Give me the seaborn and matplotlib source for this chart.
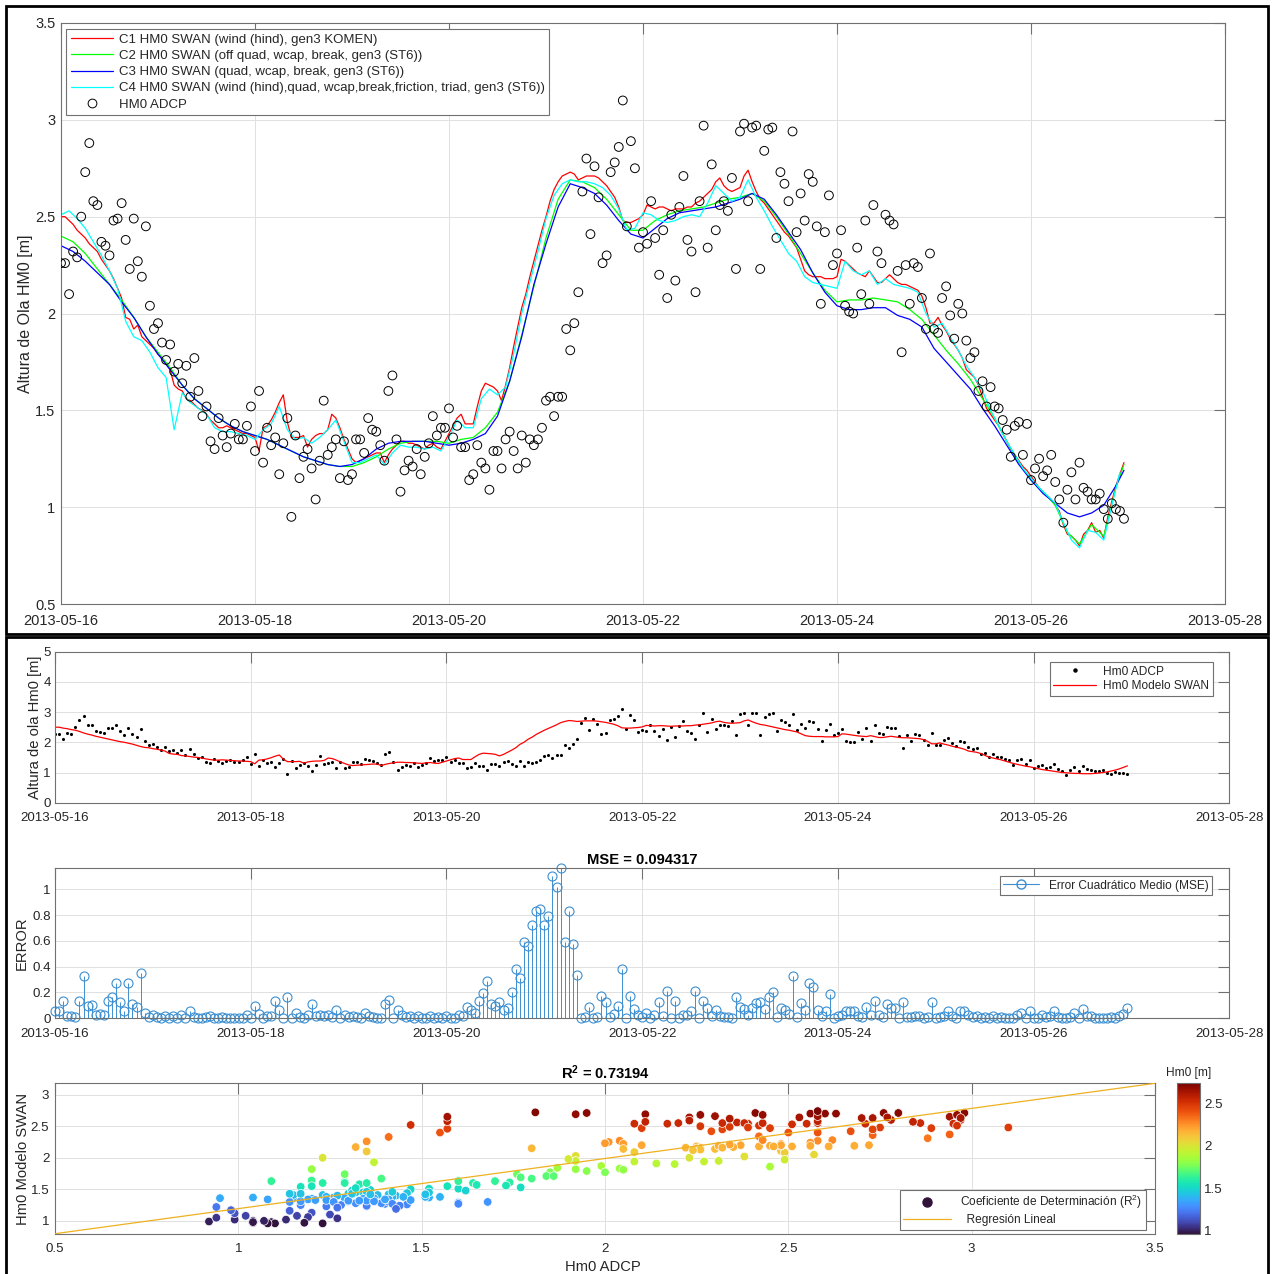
import numpy as np
import pandas as pd
import matplotlib
matplotlib.use("Agg")
import matplotlib.pyplot as plt
import matplotlib.dates as mdates
from matplotlib.lines import Line2D
from matplotlib.patches import Rectangle
from matplotlib.ticker import FormatStrFormatter
from matplotlib.cm import ScalarMappable
import seaborn as sns

# ---------------------------------------------------------------- data
START = "2013-05-16T00:00"

# ADCP significant wave height, hourly from 2013-05-16 00:00
adcp_hm0 = [
    2.26, 2.26, 2.10, 2.32, 2.29, 2.50, 2.73, 2.88, 2.58, 2.56, 2.37, 2.35,
    2.30, 2.48, 2.49, 2.57, 2.38, 2.23, 2.49, 2.27, 2.19, 2.45, 2.04, 1.92,
    1.95, 1.85, 1.76, 1.84, 1.70, 1.74, 1.64, 1.73, 1.57, 1.77, 1.60, 1.47,
    1.52, 1.34, 1.30, 1.46, 1.37, 1.31, 1.38, 1.43, 1.35, 1.35, 1.42, 1.52,
    1.29, 1.60, 1.23, 1.41, 1.32, 1.36, 1.17, 1.33, 1.46, 0.95, 1.37, 1.15,
    1.26, 1.30, 1.20, 1.04, 1.24, 1.55, 1.27, 1.31, 1.35, 1.15, 1.34, 1.14,
    1.17, 1.35, 1.35, 1.28, 1.46, 1.40, 1.39, 1.32, 1.24, 1.60, 1.68, 1.35,
    1.08, 1.19, 1.24, 1.21, 1.30, 1.17, 1.26, 1.33, 1.47, 1.37, 1.41, 1.41,
    1.51, 1.36, 1.42, 1.31, 1.31, 1.14, 1.17, 1.32, 1.23, 1.20, 1.09, 1.29,
    1.29, 1.20, 1.35, 1.39, 1.29, 1.20, 1.37, 1.23, 1.35, 1.32, 1.35, 1.41,
    1.55, 1.57, 1.47, 1.57, 1.57, 1.92, 1.81, 1.95, 2.11, 2.63, 2.80, 2.41,
    2.76, 2.60, 2.26, 2.30, 2.73, 2.78, 2.86, 3.10, 2.45, 2.89, 2.75, 2.34,
    2.42, 2.36, 2.58, 2.39, 2.20, 2.43, 2.08, 2.51, 2.17, 2.55, 2.71, 2.38,
    2.32, 2.11, 2.58, 2.97, 2.34, 2.77, 2.43, 2.56, 2.58, 2.53, 2.70, 2.23,
    2.94, 2.98, 2.58, 2.96, 2.97, 2.23, 2.84, 2.95, 2.96, 2.39, 2.73, 2.67,
    2.58, 2.94, 2.42, 2.62, 2.48, 2.72, 2.68, 2.45, 2.05, 2.42, 2.61, 2.25,
    2.31, 2.43, 2.04, 2.01, 2.00, 2.34, 2.10, 2.48, 2.05, 2.56, 2.32, 2.26,
    2.51, 2.48, 2.46, 2.22, 1.80, 2.25, 2.05, 2.26, 2.24, 2.08, 1.92, 2.31,
    1.92, 1.90, 2.08, 2.14, 1.99, 1.87, 2.05, 2.00, 1.86, 1.77, 1.80, 1.60,
    1.65, 1.52, 1.62, 1.52, 1.51, 1.45, 1.40, 1.26, 1.42, 1.44, 1.27, 1.43,
    1.14, 1.20, 1.25, 1.16, 1.19, 1.27, 1.13, 1.04, 0.92, 1.09, 1.18, 1.04,
    1.23, 1.10, 1.08, 1.04, 1.04, 1.07, 0.99, 0.94, 1.02, 0.99, 0.98, 0.94,
]

# C1: wind (hind), gen3 KOMEN -- hourly
c1_hm0 = [
    2.50, 2.50, 2.48, 2.46, 2.43, 2.41, 2.39, 2.36, 2.34, 2.32, 2.28, 2.25,
    2.22, 2.18, 2.13, 2.08, 1.98, 1.97, 1.92, 1.94, 1.88, 1.86, 1.84, 1.82,
    1.79, 1.77, 1.74, 1.71, 1.63, 1.61, 1.60, 1.56, 1.55, 1.53, 1.51, 1.50,
    1.48, 1.45, 1.43, 1.41, 1.41, 1.42, 1.41, 1.40, 1.39, 1.38, 1.38, 1.37,
    1.36, 1.29, 1.41, 1.42, 1.45, 1.49, 1.54, 1.58, 1.44, 1.36, 1.36, 1.36,
    1.37, 1.31, 1.35, 1.37, 1.38, 1.38, 1.40, 1.48, 1.46, 1.41, 1.35, 1.30,
    1.25, 1.23, 1.24, 1.25, 1.26, 1.27, 1.28, 1.28, 1.23, 1.27, 1.30, 1.32,
    1.34, 1.34, 1.33, 1.33, 1.32, 1.31, 1.30, 1.32, 1.33, 1.31, 1.30, 1.34,
    1.38, 1.42, 1.46, 1.48, 1.43, 1.43, 1.43, 1.52, 1.60, 1.64, 1.63, 1.62,
    1.60, 1.55, 1.63, 1.72, 1.83, 1.93, 2.03, 2.10, 2.19, 2.27, 2.35, 2.43,
    2.50, 2.58, 2.64, 2.68, 2.71, 2.72, 2.73, 2.72, 2.69, 2.70, 2.71, 2.71,
    2.71, 2.70, 2.68, 2.66, 2.63, 2.60, 2.55, 2.48, 2.47, 2.47, 2.48, 2.49,
    2.51, 2.56, 2.55, 2.54, 2.55, 2.55, 2.54, 2.53, 2.54, 2.54, 2.54, 2.55,
    2.55, 2.57, 2.58, 2.60, 2.62, 2.64, 2.68, 2.70, 2.66, 2.64, 2.63, 2.64,
    2.65, 2.71, 2.74, 2.68, 2.63, 2.59, 2.57, 2.54, 2.51, 2.48, 2.45, 2.42,
    2.40, 2.37, 2.34, 2.28, 2.22, 2.20, 2.19, 2.19, 2.19, 2.18, 2.18, 2.18,
    2.19, 2.28, 2.27, 2.25, 2.23, 2.21, 2.20, 2.19, 2.22, 2.19, 2.16, 2.16,
    2.18, 2.20, 2.18, 2.16, 2.15, 2.15, 2.14, 2.13, 2.12, 2.09, 2.03, 1.95,
    1.95, 1.98, 1.94, 1.91, 1.87, 1.84, 1.81, 1.77, 1.71, 1.69, 1.67, 1.63,
    1.57, 1.51, 1.48, 1.45, 1.42, 1.38, 1.34, 1.30, 1.27, 1.24, 1.21, 1.19,
    1.16, 1.13, 1.10, 1.08, 1.06, 1.04, 1.01, 0.98, 0.91, 0.86, 0.85, 0.83,
    0.80, 0.86, 0.88, 0.92, 0.87, 0.88, 0.84, 0.95, 1.03, 1.11, 1.17, 1.23,
]

# C2 / C3, every 3 h (last sample at hour 263)
hours_c23 = list(range(0, 262, 3)) + [263]
c2_hm0 = [
    2.40, 2.37, 2.31, 2.23, 2.15, 2.07, 1.98, 1.88, 1.80, 1.72, 1.63, 1.56,
    1.51, 1.46, 1.42, 1.39, 1.37, 1.35, 1.32, 1.29, 1.26, 1.24, 1.22, 1.21,
    1.21, 1.23, 1.26, 1.30, 1.33, 1.34, 1.34, 1.34, 1.33, 1.35, 1.36, 1.41,
    1.49, 1.65, 1.89, 2.14, 2.39, 2.59, 2.69, 2.68, 2.65, 2.59, 2.51, 2.43,
    2.43, 2.48, 2.51, 2.53, 2.54, 2.55, 2.57, 2.59, 2.60, 2.62, 2.58, 2.50,
    2.41, 2.31, 2.21, 2.12, 2.06, 2.07, 2.07, 2.08, 2.07, 2.06, 2.02, 1.97,
    1.89, 1.81, 1.74, 1.66, 1.56, 1.46, 1.34, 1.23, 1.14, 1.08, 1.01, 0.87,
    0.81, 0.91, 0.85, 1.10, 1.22,
]
c3_hm0 = [
    2.35, 2.32, 2.27, 2.21, 2.15, 2.06, 1.98, 1.88, 1.79, 1.71, 1.63, 1.56,
    1.51, 1.46, 1.42, 1.39, 1.37, 1.35, 1.32, 1.29, 1.26, 1.24, 1.22, 1.21,
    1.22, 1.25, 1.30, 1.33, 1.34, 1.34, 1.34, 1.33, 1.32, 1.33, 1.35, 1.38,
    1.47, 1.65, 1.88, 2.15, 2.36, 2.55, 2.67, 2.65, 2.62, 2.56, 2.48, 2.41,
    2.39, 2.44, 2.49, 2.52, 2.53, 2.54, 2.55, 2.57, 2.59, 2.62, 2.59, 2.51,
    2.42, 2.33, 2.21, 2.11, 2.04, 2.02, 2.02, 2.03, 2.03, 1.99, 1.97, 1.93,
    1.82, 1.75, 1.68, 1.61, 1.51, 1.42, 1.32, 1.22, 1.14, 1.07, 1.02, 0.97,
    0.95, 0.97, 1.01, 1.11, 1.19,
]

# C4, every 2 h
hours_c4 = list(range(0, 263, 2))
c4_hm0 = [
    2.51, 2.53, 2.49, 2.44, 2.37, 2.30, 2.22, 2.13, 1.96, 1.88, 1.86, 1.80,
    1.72, 1.67, 1.40, 1.59, 1.54, 1.51, 1.48, 1.41, 1.39, 1.39, 1.38, 1.37,
    1.35, 1.40, 1.43, 1.52, 1.40, 1.35, 1.36, 1.33, 1.36, 1.40, 1.45, 1.34,
    1.23, 1.23, 1.25, 1.27, 1.22, 1.28, 1.32, 1.31, 1.31, 1.30, 1.31, 1.29,
    1.36, 1.45, 1.41, 1.41, 1.56, 1.61, 1.58, 1.62, 1.79, 2.00, 2.16, 2.32,
    2.49, 2.61, 2.67, 2.69, 2.68, 2.68, 2.67, 2.65, 2.61, 2.54, 2.43, 2.44,
    2.52, 2.51, 2.48, 2.47, 2.48, 2.50, 2.51, 2.50, 2.57, 2.66, 2.62, 2.58,
    2.60, 2.69, 2.60, 2.53, 2.45, 2.38, 2.31, 2.27, 2.19, 2.16, 2.15, 2.14,
    2.13, 2.27, 2.22, 2.20, 2.22, 2.15, 2.18, 2.15, 2.14, 2.13, 2.11, 2.00,
    1.93, 1.95, 1.88, 1.81, 1.73, 1.67, 1.60, 1.50, 1.42, 1.34, 1.27, 1.20,
    1.15, 1.10, 1.06, 1.02, 0.92, 0.83, 0.79, 0.88, 0.87, 0.83, 1.01, 1.18,
]

# SWAN model series compared against the ADCP record (hourly)
swan_hm0 = [
    2.50, 2.50, 2.47, 2.45, 2.42, 2.40, 2.36, 2.31, 2.27, 2.24, 2.20, 2.17,
    2.14, 2.11, 2.08, 2.05, 2.02, 2.00, 1.97, 1.94, 1.90, 1.86, 1.83, 1.82,
    1.79, 1.77, 1.74, 1.71, 1.63, 1.61, 1.60, 1.56, 1.55, 1.53, 1.51, 1.50,
    1.48, 1.45, 1.43, 1.41, 1.41, 1.42, 1.41, 1.40, 1.39, 1.38, 1.38, 1.37,
    1.36, 1.29, 1.41, 1.42, 1.45, 1.49, 1.54, 1.58, 1.44, 1.36, 1.36, 1.36,
    1.37, 1.31, 1.35, 1.37, 1.38, 1.38, 1.40, 1.48, 1.46, 1.41, 1.35, 1.30,
    1.25, 1.23, 1.24, 1.25, 1.26, 1.27, 1.28, 1.28, 1.23, 1.27, 1.30, 1.32,
    1.34, 1.34, 1.33, 1.33, 1.32, 1.31, 1.30, 1.32, 1.33, 1.31, 1.30, 1.34,
    1.38, 1.42, 1.46, 1.48, 1.43, 1.43, 1.43, 1.52, 1.60, 1.64, 1.63, 1.62,
    1.60, 1.55, 1.60, 1.67, 1.74, 1.82, 1.93, 2.00, 2.10, 2.17, 2.26, 2.33,
    2.40, 2.46, 2.52, 2.58, 2.65, 2.69, 2.72, 2.71, 2.69, 2.70, 2.71, 2.71,
    2.71, 2.70, 2.68, 2.66, 2.63, 2.60, 2.55, 2.48, 2.47, 2.47, 2.48, 2.49,
    2.51, 2.56, 2.55, 2.54, 2.55, 2.55, 2.54, 2.53, 2.54, 2.54, 2.54, 2.55,
    2.55, 2.57, 2.58, 2.60, 2.62, 2.64, 2.68, 2.70, 2.66, 2.64, 2.63, 2.64,
    2.65, 2.71, 2.74, 2.68, 2.63, 2.59, 2.57, 2.54, 2.51, 2.48, 2.45, 2.42,
    2.40, 2.37, 2.34, 2.28, 2.22, 2.20, 2.19, 2.19, 2.19, 2.18, 2.18, 2.18,
    2.19, 2.28, 2.27, 2.25, 2.23, 2.21, 2.20, 2.19, 2.22, 2.19, 2.16, 2.16,
    2.18, 2.20, 2.18, 2.16, 2.15, 2.15, 2.14, 2.13, 2.12, 2.09, 2.03, 1.95,
    1.95, 1.98, 1.94, 1.91, 1.87, 1.84, 1.81, 1.77, 1.71, 1.69, 1.67, 1.63,
    1.57, 1.51, 1.48, 1.45, 1.42, 1.38, 1.34, 1.30, 1.27, 1.24, 1.21, 1.19,
    1.16, 1.13, 1.10, 1.08, 1.06, 1.04, 1.02, 1.00, 0.99, 0.98, 0.97, 0.97,
    0.96, 0.96, 0.96, 0.97, 0.98, 1.00, 1.02, 1.05, 1.08, 1.12, 1.17, 1.22,
]

legend_top = [
    "C1 HM0 SWAN (wind (hind), gen3 KOMEN)",
    "C2 HM0 SWAN (off quad, wcap, break, gen3 (ST6))",
    "C3 HM0 SWAN (quad, wcap, break, gen3 (ST6))",
    "C4 HM0 SWAN (wind (hind),quad, wcap,break,friction, triad, gen3 (ST6))",
    "HM0 ADCP",
]
date_ticks = pd.date_range("2013-05-16", "2013-05-28", freq="2D")
mse_title = "MSE = 0.094317"
r2_title = r"R$^{\mathbf{2}}$ = 0.73194"

# ---------------------------------------------------------------- style
sns.set_theme(style="white")
plt.rcParams["font.family"] = ["Liberation Sans", "DejaVu Sans"]
plt.rcParams["mathtext.fontset"] = "custom"
plt.rcParams["mathtext.rm"] = "Liberation Sans"
plt.rcParams["mathtext.it"] = "Liberation Sans:italic"
plt.rcParams["mathtext.bf"] = "Liberation Sans:bold"

W, H = 1272, 1274
INK = "#262626"
AXC = "#707070"
GRID = "#e0e0e0"
STEM = "#3d8fd1"
REG = "#EDB120"

t0 = np.datetime64(START)


def hours_to_num(h):
    return mdates.date2num(t0 + np.asarray(h).astype("timedelta64[h]"))


def box(x0, y0, x1, y1):
    return [x0 / W, 1 - y1 / H, (x1 - x0) / W, (y1 - y0) / H]


def style(ax, fs, xpad=4, ypad=4):
    for s in ax.spines.values():
        s.set_color(AXC)
        s.set_linewidth(0.8)
    ax.tick_params(direction="in", length=8, width=0.8, top=True, right=True,
                   colors=AXC, labelcolor=INK, labelsize=fs)
    ax.tick_params(axis="x", pad=xpad)
    ax.tick_params(axis="y", pad=ypad)
    ax.grid(True, color=GRID, lw=0.7)
    ax.set_axisbelow(True)
    ax.set_xlabel("")
    ax.set_ylabel("")


def legend_box(leg):
    fr = leg.get_frame()
    fr.set_edgecolor(AXC)
    fr.set_linewidth(0.8)
    fr.set_facecolor("white")
    fr.set_alpha(1)


tick_pos = mdates.date2num(date_ticks.to_pydatetime())
tick_lab = list(date_ticks.strftime("%Y-%m-%d"))

obs_hours = np.arange(len(adcp_hm0))
obs_t = hours_to_num(obs_hours)
adcp = np.asarray(adcp_hm0)
swan = np.asarray(swan_hm0)

fig = plt.figure(figsize=(W / 100, H / 100), dpi=100)

# panel frames
for x0, y0, x1, y1 in [(6, 6, 1268, 634), (6, 637, 1268, 1290)]:
    fig.add_artist(Rectangle((x0 / W, 1 - y1 / H), (x1 - x0) / W, (y1 - y0) / H,
                             transform=fig.transFigure, fill=False,
                             ec="black", lw=2.0))

# ---------------------------------------------------------------- top: model runs vs ADCP
ax1 = fig.add_axes(box(61, 23, 1225, 604))
sns.lineplot(x=hours_to_num(np.arange(len(c1_hm0))), y=c1_hm0, color="#ff0000", lw=0.9, ax=ax1)
sns.lineplot(x=hours_to_num(hours_c23), y=c2_hm0, color="#00ff00", lw=0.9, ax=ax1)
sns.lineplot(x=hours_to_num(hours_c23), y=c3_hm0, color="#0000ff", lw=0.9, ax=ax1)
sns.lineplot(x=hours_to_num(hours_c4), y=c4_hm0, color="#00ffff", lw=0.9, ax=ax1)
sns.scatterplot(x=obs_t, y=adcp, marker="o", s=40, facecolor="none",
                edgecolor="black", linewidth=0.7, ax=ax1, zorder=3)
style(ax1, 10.5, xpad=7, ypad=4)
ax1.set_xlim(tick_pos[0], tick_pos[-1])
ax1.set_ylim(0.5, 3.5)
ax1.set_xticks(tick_pos, tick_lab)
ax1.set_yticks(np.arange(0.5, 3.51, 0.5))
ax1.yaxis.set_major_formatter(FormatStrFormatter("%g"))
ax1.set_ylabel("Altura de Ola HM0 [m]", fontsize=11.5, color=INK)
ax1.yaxis.set_label_coords(-0.024, 0.5)
handles = [Line2D([], [], color=c, lw=0.9) for c in ("#ff0000", "#00ff00", "#0000ff", "#00ffff")]
handles.append(Line2D([], [], ls="none", marker="o", ms=6.3, mfc="none", mec="black", mew=0.7))
leg = ax1.legend(handles, legend_top, loc="upper left", bbox_to_anchor=(66 / W, 1 - 29 / H),
                 bbox_transform=fig.transFigure, fontsize=9.5, frameon=True, fancybox=False,
                 borderpad=0.35, labelspacing=0.3, handlelength=3.2, handletextpad=0.45,
                 borderaxespad=0)
legend_box(leg)

# ---------------------------------------------------------------- series comparison
ax2 = fig.add_axes(box(55, 651.7, 1229.4, 802.7))
sns.scatterplot(x=obs_t, y=adcp, color="black", s=5, linewidth=0, ax=ax2)
sns.lineplot(x=obs_t, y=swan, color="#ff0000", lw=0.9, ax=ax2)
style(ax2, 9.6, xpad=7, ypad=3)
ax2.set_xlim(tick_pos[0], tick_pos[-1])
ax2.set_ylim(0, 5)
ax2.set_xticks(tick_pos, tick_lab)
ax2.set_yticks(range(0, 6))
ax2.set_ylabel("Altura de ola Hm0 [m]", fontsize=10.6, color=INK)
ax2.yaxis.set_label_coords(-0.011, 0.5)
leg2 = ax2.legend([Line2D([], [], ls="none", marker="o", ms=2.2, color="black"),
                   Line2D([], [], color="#ff0000", lw=0.9)],
                  ["Hm0 ADCP", "Hm0 Modelo SWAN"], loc="upper right",
                  bbox_to_anchor=(1213 / W, 1 - 662 / H), bbox_transform=fig.transFigure,
                  fontsize=8.6, frameon=True, fancybox=False, borderpad=0.3,
                  labelspacing=0.2, handlelength=3.6, handletextpad=0.6, borderaxespad=0)
legend_box(leg2)

# ---------------------------------------------------------------- squared error
err = (swan - adcp) ** 2
ax3 = fig.add_axes(box(55, 867.7, 1229.4, 1018.3))
mk, sl, bl = ax3.stem(obs_t, err, linefmt="-", markerfmt="o", basefmt=" ")
plt.setp(sl, color=STEM, lw=0.7)
plt.setp(mk, mfc="none", mec=STEM, ms=6.5, mew=0.8, clip_on=False)
style(ax3, 9.6, xpad=7, ypad=3)
ax3.set_xlim(tick_pos[0], tick_pos[-1])
ax3.set_ylim(0, err.max())
ax3.set_xticks(tick_pos, tick_lab)
ax3.set_yticks(np.arange(0, 1.01, 0.2))
ax3.yaxis.set_major_formatter(FormatStrFormatter("%g"))
ax3.set_ylabel("ERROR", fontsize=10.6, color=INK)
ax3.yaxis.set_label_coords(-0.022, 0.5)
ax3.set_title(mse_title, fontsize=10.6, fontweight="bold", color="black", pad=3)
leg3 = ax3.legend([Line2D([], [], color=STEM, lw=0.8, marker="o", ms=6.5, mfc="none", mec=STEM)],
                  ["Error Cuadrático Medio (MSE)"], loc="upper right",
                  bbox_to_anchor=(1212 / W, 1 - 876 / H), bbox_transform=fig.transFigure,
                  fontsize=8.6, frameon=True, fancybox=False, borderpad=0.3,
                  handlelength=3.0, handletextpad=0.8, borderaxespad=0)
legend_box(leg3)

# ---------------------------------------------------------------- model vs observation scatter
ax4 = fig.add_axes(box(55, 1083.3, 1155, 1233.7))
norm = plt.Normalize(swan.min(), swan.max())
sns.scatterplot(x=adcp, y=swan, hue=swan, palette="turbo", hue_norm=norm, s=38,
                edgecolor="white", linewidth=0.5, legend=False, ax=ax4, zorder=3)
slope, icpt = np.polyfit(adcp, swan, 1)
xfit = np.array([0.5, 3.5])
yfit = slope * xfit + icpt
sns.lineplot(x=xfit, y=yfit, color=REG, lw=0.9, ax=ax4, zorder=4)
style(ax4, 9.6, xpad=7, ypad=4)
ax4.set_xlim(0.5, 3.5)
ax4.set_ylim(yfit[0], yfit[1])
ax4.set_xticks(np.arange(0.5, 3.51, 0.5))
ax4.set_yticks(np.arange(1, 3.01, 0.5))
ax4.xaxis.set_major_formatter(FormatStrFormatter("%g"))
ax4.yaxis.set_major_formatter(FormatStrFormatter("%g"))
ax4.set_xlabel("Hm0 ADCP", fontsize=10.6, color=INK)
ax4.xaxis.set_label_coords(0.498, -0.175)
ax4.set_ylabel("Hm0 Modelo SWAN", fontsize=10.6, color=INK)
ax4.yaxis.set_label_coords(-0.023, 0.5)
ax4.set_title(r2_title, fontsize=10.6, fontweight="bold", color="black", pad=3)
leg4 = ax4.legend([Line2D([], [], ls="none", marker="o", ms=6.5, color=plt.get_cmap("turbo")(0.0)),
                   Line2D([], [], color=REG, lw=0.9)],
                  ["Coeficiente de Determinación (R$^2$)", "  Regresión Lineal"],
                  loc="lower right", bbox_to_anchor=(1146 / W, 1 - 1230 / H),
                  bbox_transform=fig.transFigure, fontsize=8.6, frameon=True, fancybox=False,
                  borderpad=0.3, labelspacing=0.25, handlelength=4.0, handletextpad=0.8,
                  borderaxespad=0)
legend_box(leg4)

cax = fig.add_axes(box(1177, 1083.3, 1200, 1233.7))
cb = fig.colorbar(ScalarMappable(norm=norm, cmap="turbo"), cax=cax)
cb.set_ticks([1, 1.5, 2, 2.5])
cb.ax.yaxis.set_major_formatter(FormatStrFormatter("%g"))
cb.outline.set_edgecolor(AXC)
cb.outline.set_linewidth(0.8)
cax.tick_params(direction="in", length=3, width=0.8, colors=AXC, labelcolor=INK,
                labelsize=9.6, pad=3)
cax.set_title("Hm0 [m]", fontsize=8.6, color=INK, pad=5)

fig.savefig("out.png", dpi=100, facecolor="white")
